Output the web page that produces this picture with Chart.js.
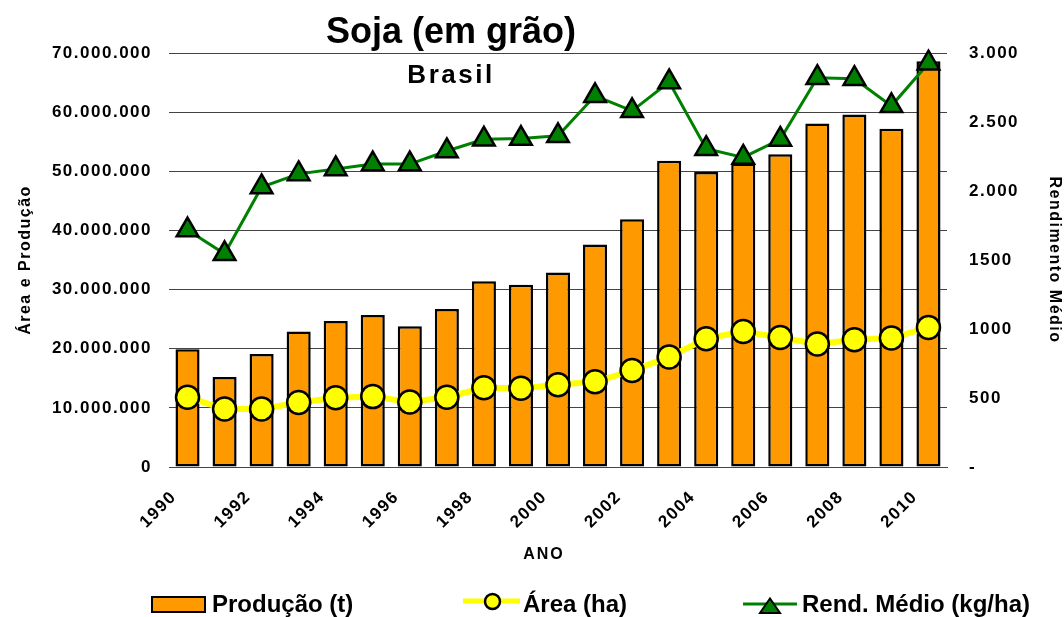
<!DOCTYPE html>
<html><head><meta charset="utf-8">
<script src="https://cdn.jsdelivr.net/npm/chart.js@4"></script>
<style>html,body{margin:0;padding:0;background:#fff}#wrap{width:1064px;height:617px}</style>
</head><body><div id="wrap"><canvas id="c" width="1064" height="617"></canvas></div>
<script>
const years = ['1990','1991','1992','1993','1994','1995','1996','1997','1998','1999','2000','2001','2002','2003','2004','2005','2006','2007','2008','2009','2010'];
const xTickLabels = ['1990','','1992','','1994','','1996','','1998','','2000','','2002','','2004','','2006','','2008','','2010'];
const producao = [19900000,15200000,19100000,22900000,24700000,25700000,23800000,26700000,31400000,30800000,32900000,37600000,41900000,51800000,49900000,51300000,52900000,58100000,59600000,57200000,68600000];
const area = [11800000,9800000,9800000,10900000,11700000,11900000,11000000,11800000,13400000,13300000,13900000,14400000,16300000,18600000,21700000,22900000,21900000,20800000,21500000,21800000,23600000];
const rendimento = [1717,1545,2029,2124,2160,2195,2195,2290,2375,2380,2400,2690,2581,2790,2307,2243,2374,2821,2814,2617,2926];
const leftTickLabels = ['0','10.000.000','20.000.000','30.000.000','40.000.000','50.000.000','60.000.000','70.000.000'];
const rightTickLabels = ['-','500','1000','1500','2.000','2.500','3.000'];
const seriesNames = ['Produção (t)','Área (ha)','Rend. Médio (kg/ha)'];
const titleText = 'Soja (em grão)';
const subtitleText = 'Brasil';
const xTitle = 'ANO';
const yTitle = 'Área e Produção';
const y1Title = 'Rendimento Médio';

const FAM = '"Liberation Sans", Arial, sans-serif';
const tickFont = {family: FAM, size: 17, weight: 'bold'};
const axisTitleFont = {family: FAM, size: 16, weight: 'bold'};

const spacingPlugin = {
  id: 'spacing',
  beforeDraw(chart) { chart.ctx.letterSpacing = '1.5px'; }
};

const decorPlugin = {
  id: 'decor',
  afterDraw(chart) {
    const ctx = chart.ctx;
    ctx.save();
    ctx.fillStyle = '#000';
    ctx.letterSpacing = '0px';
    ctx.textAlign = 'center';
    ctx.textBaseline = 'alphabetic';
    ctx.font = 'bold 36px ' + FAM;
    ctx.fillText(titleText, 451, 43);
    ctx.letterSpacing = '2.5px';
    ctx.font = 'bold 26px ' + FAM;
    ctx.fillText(subtitleText, 451, 83);
    ctx.letterSpacing = '2px';
    ctx.font = 'bold 16px ' + FAM;
    ctx.textBaseline = 'middle';
    ctx.fillText(xTitle, 544, 555);
    ctx.letterSpacing = '0px';
    ctx.textAlign = 'left';
    ctx.textBaseline = 'alphabetic';
    ctx.font = 'bold 24px ' + FAM;
    ctx.fillStyle = '#FF9900';
    ctx.fillRect(152, 597, 53, 15);
    ctx.lineWidth = 2;
    ctx.strokeStyle = '#000';
    ctx.strokeRect(152, 597, 53, 15);
    ctx.fillStyle = '#000';
    ctx.fillText(seriesNames[0], 212, 611.5);
    ctx.strokeStyle = '#FFFF00';
    ctx.lineWidth = 5;
    ctx.beginPath(); ctx.moveTo(463, 601); ctx.lineTo(520, 601); ctx.stroke();
    ctx.beginPath(); ctx.arc(492.5, 601.5, 7.5, 0, Math.PI * 2);
    ctx.fillStyle = '#FFFF00'; ctx.fill();
    ctx.lineWidth = 2.5; ctx.strokeStyle = '#000'; ctx.stroke();
    ctx.fillStyle = '#000';
    ctx.fillText(seriesNames[1], 523, 611.5);
    ctx.strokeStyle = '#008000';
    ctx.lineWidth = 3;
    ctx.beginPath(); ctx.moveTo(743, 604); ctx.lineTo(797, 604); ctx.stroke();
    ctx.beginPath(); ctx.moveTo(770, 598.5); ctx.lineTo(780, 613); ctx.lineTo(760, 613); ctx.closePath();
    ctx.fillStyle = '#008000'; ctx.fill();
    ctx.lineWidth = 2; ctx.strokeStyle = '#000'; ctx.stroke();
    ctx.fillStyle = '#000';
    ctx.fillText(seriesNames[2], 802, 611.5);
    ctx.restore();
  }
};

new Chart(document.getElementById('c'), {
  data: {
    labels: years,
    datasets: [
      {type: 'bar', label: seriesNames[0], data: producao, yAxisID: 'y', order: 3,
       backgroundColor: '#FF9900', borderColor: '#000', borderWidth: 2.5, borderSkipped: false,
       barPercentage: 0.65, categoryPercentage: 1},
      {type: 'line', label: seriesNames[1], data: area, yAxisID: 'y', order: 2, clip: false,
       borderColor: '#FFFF00', borderWidth: 6, tension: 0,
       pointStyle: 'circle', pointRadius: 11.5, pointBackgroundColor: '#FFFF00',
       pointBorderColor: '#000', pointBorderWidth: 2.5},
      {type: 'line', label: seriesNames[2], data: rendimento, yAxisID: 'y1', order: 1, clip: false,
       borderColor: '#008000', borderWidth: 3, tension: 0,
       pointStyle: 'triangle', pointRadius: 12.5, pointBackgroundColor: '#008000',
       pointBorderColor: '#000', pointBorderWidth: 2.5}
    ]
  },
  options: {
    responsive: false,
    devicePixelRatio: 1,
    animation: false,
    layout: {padding: {top: 53, bottom: 42, left: 0, right: 0}},
    plugins: {legend: {display: false}, tooltip: {enabled: false}, title: {display: false}},
    scales: {
      x: {
        type: 'category', offset: true,
        grid: {display: false, drawTicks: false},
        border: {display: true, color: '#444', width: 1},
        ticks: {autoSkip: false, minRotation: 45, maxRotation: 45, padding: 20, labelOffset: -13.5,
                font: tickFont, color: '#000', callback: (v, i) => xTickLabels[i]},
        afterFit: s => { s.height = 108; }
      },
      y: {
        position: 'left', min: 0, max: 70000000,
        grid: {color: '#444', lineWidth: 1, drawTicks: false},
        border: {display: false},
        ticks: {stepSize: 10000000, padding: 17, font: tickFont, color: '#000',
                callback: v => leftTickLabels[Math.round(v / 10000000)]},
        title: {display: true, text: yTitle, font: axisTitleFont, color: '#000', padding: {top: 16, bottom: 0}},
        afterFit: s => { s.width = 169; }
      },
      y1: {
        position: 'right', min: 0, max: 3000,
        grid: {display: false, drawTicks: false},
        border: {display: false},
        ticks: {stepSize: 500, padding: 22, font: tickFont, color: '#000',
                callback: v => rightTickLabels[Math.round(v / 500)]},
        title: {display: true, text: y1Title, font: axisTitleFont, color: '#000', padding: {top: 0, bottom: 0}},
        afterFit: s => { s.width = 117; }
      }
    }
  },
  plugins: [spacingPlugin, decorPlugin]
});
</script>
</body></html>
